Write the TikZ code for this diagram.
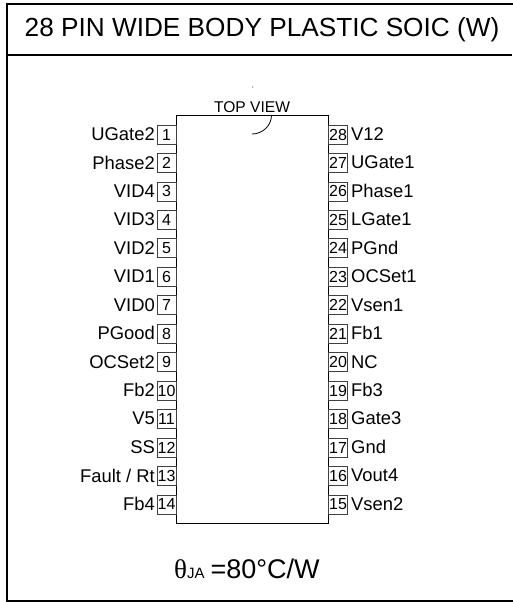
\documentclass[tikz,border=0pt]{standalone}
\usepackage{fontspec}
\setmainfont{Liberation Sans}
\newfontfamily\grk{Liberation Serif}
\tikzset{
  x=1pt,y=-1pt,
  frame/.style={draw=black,line width=2pt},
  chip/.style={draw=black,line width=0.9pt,fill=none},
  pinbox/.style={draw=black!75,line width=0.8pt,minimum width=19pt,minimum height=19pt,inner sep=0pt,font=\fontsize{16}{16}\selectfont},
  pinlabel/.style={inner sep=0pt,font=\fontsize{18.4}{19}\selectfont},
}
\begin{document}
\begin{tikzpicture}
\useasboundingbox (0,0) rectangle (512,602);
\draw[frame] (7,4.5) rectangle (516,600.5);
\draw[frame] (7,55) -- (512,55);
\node[inner sep=0pt,anchor=base west,font=\fontsize{26.2}{28}\selectfont] (title) at (24.5,37) {28 PIN WIDE BODY PLASTIC SOIC (W)};
\node[chip,minimum width=152pt,minimum height=408pt,inner sep=0pt,anchor=north west] (ic) at (176,115) {};
\node[inner sep=0pt,anchor=base,font=\fontsize{15.6}{16}\selectfont] (top) at (252,112) {TOP VIEW};
\fill (252.5,87) circle (0.5);
\coordinate (n1) at (271.5,115);
\coordinate (n2) at (252,134);
\draw[line width=0.8pt] (n1) to[out=-90,in=0] (n2);
\foreach \n/\t [count=\i from 0] in {1/UGate2,2/Phase2,3/VID4,4/VID3,5/VID2,6/VID1,7/VID0,8/PGood,9/OCSet2,10/Fb2,11/V5,12/SS,13/{Fault / Rt},14/Fb4}{
  \pgfmathsetmacro\yy{134.5+28.46*\i}
  \node[pinbox] (L\n) at (166.5,\yy) {\n};
  \node[pinlabel,anchor=east] (LL\n) at (155,\yy-0.5) {\t};
}
\foreach \n/\t [count=\i from 0] in {28/V12,27/UGate1,26/Phase1,25/LGate1,24/PGnd,23/OCSet1,22/Vsen1,21/Fb1,20/NC,19/Fb3,18/Gate3,17/Gnd,16/Vout4,15/Vsen2}{
  \pgfmathsetmacro\yy{134.5+28.46*\i}
  \node[pinbox] (R\n) at (338,\yy) {\n};
  \node[pinlabel,anchor=west] (RL\n) at (351,\yy-0.5) {\t};
}
\node[inner sep=0pt,anchor=base west,font=\fontsize{27}{28}\selectfont] (theta) at (174,578) {{\grk θ}{\fontsize{15}{15}\selectfont JA}\hspace{6pt}=80°C/W};
\end{tikzpicture}
\end{document}
